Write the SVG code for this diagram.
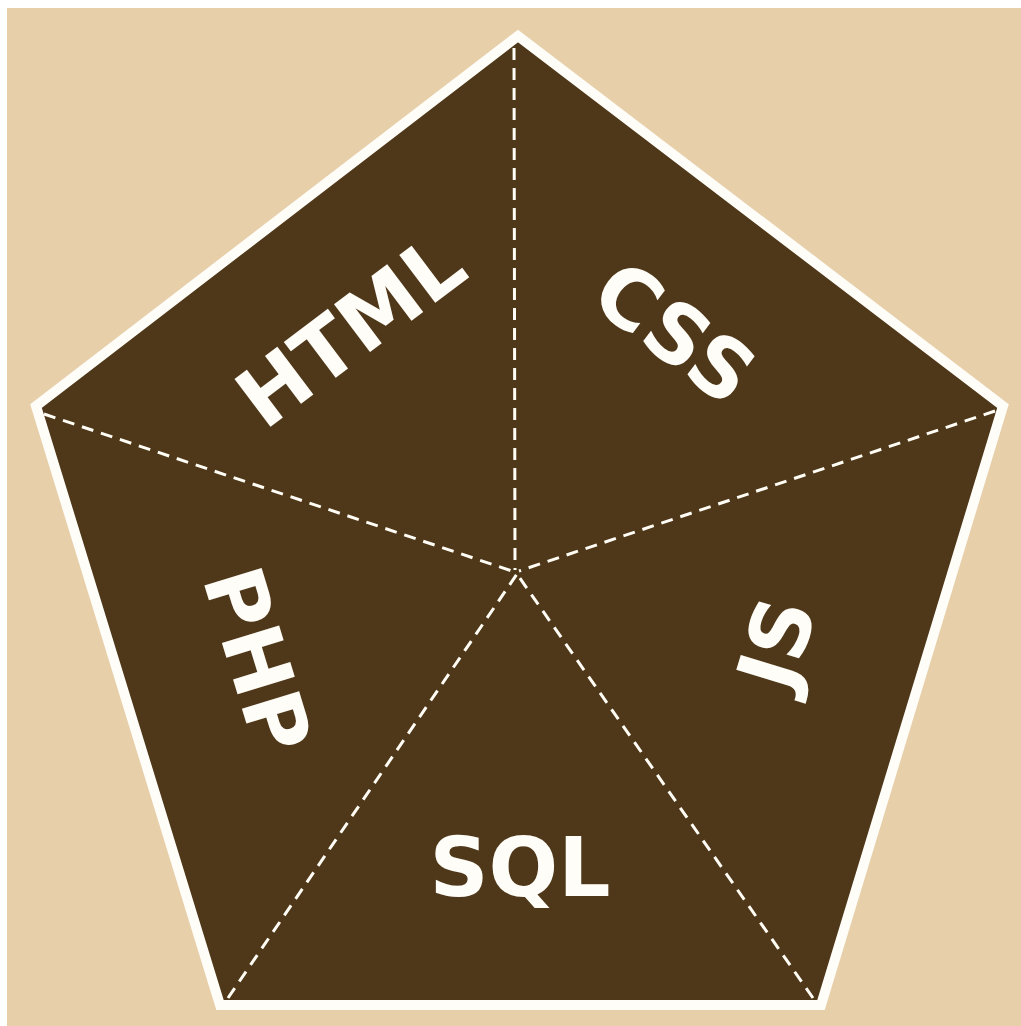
<svg xmlns="http://www.w3.org/2000/svg" width="1021" height="1026" viewBox="0 0 1021 1026">
  <style>
    .lbl { font-family: "DejaVu Sans", "Liberation Sans", sans-serif; font-weight: bold; font-size: 82px; fill: #fffdf8; text-anchor: middle; }
    .dash { stroke: #fffdf5; stroke-width: 3; stroke-dasharray: 12 8; fill: none; }
  </style>
  <rect x="0" y="0" width="1021" height="1026" fill="#ffffff"/>
  <rect x="7" y="8" width="1014" height="1018" fill="#e7cfaa"/>
  <g id="pentagon">
    <polygon points="518,36 36,406 220,1005 821,1005 1003,406" fill="#4f3819" stroke="#fffdf8" stroke-width="10" stroke-linejoin="miter"/>
  </g>
  <g id="connectors">
    <line class="dash" x1="514" y1="48" x2="515" y2="570"/>
    <line class="dash" x1="44" y1="414" x2="515" y2="572"/>
    <line class="dash" x1="995" y1="411" x2="519" y2="571"/>
    <line class="dash" x1="228" y1="998" x2="517" y2="574"/>
    <line class="dash" x1="813" y1="998" x2="517" y2="574"/>
  </g>
  <g id="html"><text class="lbl" transform="translate(350,330) rotate(-37)" dy="0.36em">HTML</text></g>
  <g id="css"><text class="lbl" transform="translate(675,332) rotate(37)" dy="0.36em">CSS</text></g>
  <g id="js"><text class="lbl" transform="translate(776,643) rotate(-73)" dy="0.36em">JS</text></g>
  <g id="php"><text class="lbl" transform="translate(258,660) rotate(73)" dy="0.36em">PHP</text></g>
  <g id="sql"><text class="lbl" transform="translate(520,866)" dy="0.36em">SQL</text></g>
</svg>
